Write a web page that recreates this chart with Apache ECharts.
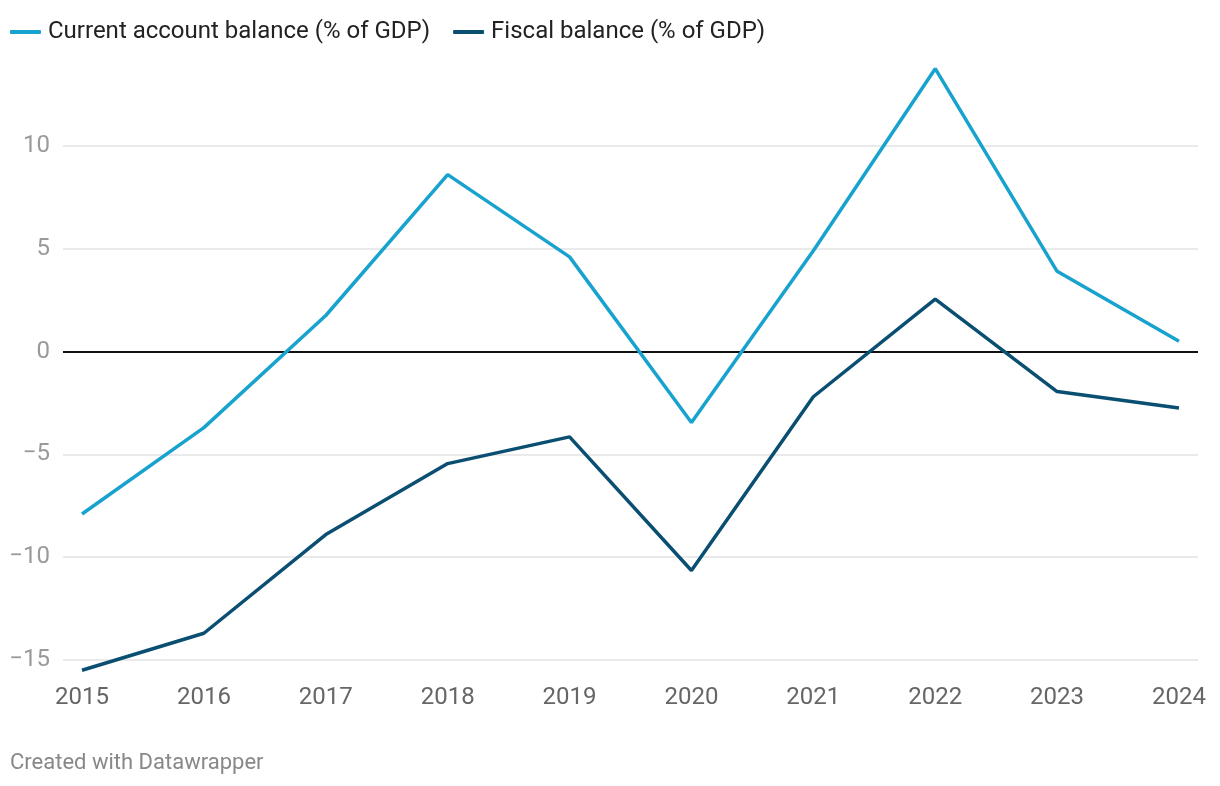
<!DOCTYPE html>
<html>
<head>
<meta charset="utf-8">
<script src="https://cdn.jsdelivr.net/npm/echarts@6/dist/echarts.min.js"></script>
<style>
html,body{margin:0;padding:0;background:#fff;}
#chart{width:1220px;height:786px;}
</style>
</head>
<body>
<div id="chart"></div>
<script>
var years = [2015, 2016, 2017, 2018, 2019, 2020, 2021, 2022, 2023, 2024];
var currentAccount = [-7.9, -3.7, 1.75, 8.6, 4.6, -3.45, 4.9, 13.75, 3.9, 0.5];
var fiscalBalance = [-15.5, -13.7, -8.9, -5.45, -4.15, -10.65, -2.2, 2.55, -1.95, -2.75];
var yTicks = [-15, -10, -5, 0, 5, 10];
var seriesNames = ['Current account balance (% of GDP)', 'Fiscal balance (% of GDP)'];

function pairs(vals){ return years.map(function(y,i){ return [y, vals[i]]; }); }

var chart = echarts.init(document.getElementById('chart'));
chart.setOption({
  animation: false,
  textStyle: { fontFamily: 'Roboto' },
  legend: {
    left: 10, top: 20, padding: 0,
    itemWidth: 31, itemHeight: 4, itemGap: 23,
    icon: 'roundRect',
    textStyle: { fontSize: 24, color: '#222', fontFamily: 'Roboto', padding: [0, 0, 0, 2] },
    data: seriesNames
  },
  graphic: [{
    type: 'text', left: 10, top: 752,
    style: { text: 'Created with Datawrapper', fill: '#888', fontSize: 22, fontFamily: 'Roboto' }
  }],
  grid: { left: 63, right: 22, top: 43, bottom: 126, containLabel: false },
  xAxis: {
    type: 'value', min: 2014.844, max: 2024.156,
    axisLine: { show: false }, axisTick: { show: false }, splitLine: { show: false },
    axisLabel: { customValues: years, color: '#666', fontSize: 24, margin: 26, fontFamily: 'Roboto',
      formatter: function(v){ return String(Math.round(v)); } }
  },
  yAxis: {
    type: 'value', min: -15, max: 15, interval: 5,
    axisLine: { show: false }, axisTick: { show: false },
    splitLine: { lineStyle: { color: ['#e3e3e3','#e3e3e3','#e3e3e3','#e3e3e3','#e3e3e3','#e3e3e3','rgba(0,0,0,0)'], width: 1.5 } },
    axisLabel: { color: '#9a9a9a', fontSize: 24, margin: 13, fontFamily: 'Roboto',
      formatter: function(v){ return yTicks.indexOf(v) >= 0 ? (v < 0 ? '\u2212' + Math.abs(v) : String(v)) : ''; } }
  },
  series: [
    {
      name: seriesNames[0], type: 'line', data: pairs(currentAccount),
      symbol: 'none', clip: false, z: 3,
      lineStyle: { color: '#18a2ce', width: 3.5 }, itemStyle: { color: '#18a2ce' },
      markLine: { silent: true, symbol: 'none', label: { show: false }, z: 1,
        lineStyle: { color: '#111', width: 2, type: 'solid' }, data: [{ yAxis: 0 }] }
    },
    {
      name: seriesNames[1], type: 'line', data: pairs(fiscalBalance),
      symbol: 'none', clip: false, z: 4,
      lineStyle: { color: '#0a4f72', width: 3.5 }, itemStyle: { color: '#0a4f72' }
    }
  ]
});
</script>
</body>
</html>
